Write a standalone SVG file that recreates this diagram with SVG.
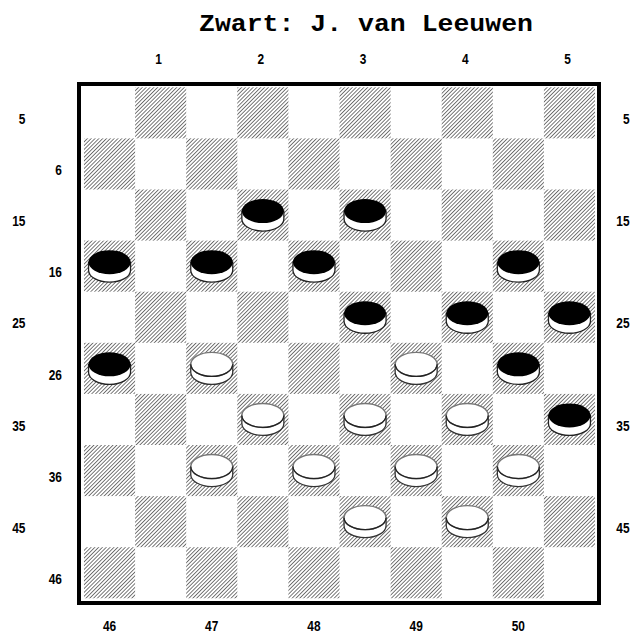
<svg xmlns="http://www.w3.org/2000/svg" xmlns:xlink="http://www.w3.org/1999/xlink" width="630" height="634" viewBox="0 0 630 634">
<style>
.title{font-family:"Liberation Mono","Courier New",monospace;font-weight:bold;font-size:23px;fill:#000}
.lbl{font-family:"Liberation Sans",Arial,sans-serif;font-weight:bold;font-size:14px;fill:#000}
.m{text-anchor:middle}
.e{text-anchor:end}
.d{fill:url(#hatch)}
</style>
<defs>
<pattern id="hatch" patternUnits="userSpaceOnUse" width="2.7" height="10" patternTransform="rotate(45)">
<rect x="0" y="0" width="0.9" height="10" fill="#6a6a6a"/>
</pattern>
<g id="bp">
<path d="M-21,-4 L-21,4 A21,12 0 0 0 21,4 L21,-4 Z" fill="#fff" stroke="#222" stroke-width="1.3"/>
<ellipse cx="0" cy="-4" rx="21" ry="12" fill="#000"/>
</g>
<g id="wp">
<path d="M-21,-4 L-21,4 A21,12 0 0 0 21,4 L21,-4 Z" fill="#fff" stroke="#333" stroke-width="1.3"/>
<ellipse cx="0" cy="-4" rx="21" ry="12" fill="#fff" stroke="#777" stroke-width="1.4"/>
<path d="M-21,-4 A21,12 0 0 0 21,-4" fill="none" stroke="#222" stroke-width="1.3"/>
</g>
</defs>
<rect width="630" height="634" fill="#fff"/>
<text class="title m" x="366" y="31" textLength="334" lengthAdjust="spacingAndGlyphs">Zwart: J. van Leeuwen</text>
<g id="board">
<rect x="79" y="84" width="520" height="519" fill="#fff" stroke="#000" stroke-width="4"/>
<g id="dark-squares">
<rect class="d" x="135.1" y="87.3" width="51.1" height="51.1"/>
<rect class="d" x="237.3" y="87.3" width="51.1" height="51.1"/>
<rect class="d" x="339.5" y="87.3" width="51.1" height="51.1"/>
<rect class="d" x="441.7" y="87.3" width="51.1" height="51.1"/>
<rect class="d" x="543.9" y="87.3" width="51.1" height="51.1"/>
<rect class="d" x="84" y="138.4" width="51.1" height="51.1"/>
<rect class="d" x="186.2" y="138.4" width="51.1" height="51.1"/>
<rect class="d" x="288.4" y="138.4" width="51.1" height="51.1"/>
<rect class="d" x="390.6" y="138.4" width="51.1" height="51.1"/>
<rect class="d" x="492.8" y="138.4" width="51.1" height="51.1"/>
<rect class="d" x="135.1" y="189.5" width="51.1" height="51.1"/>
<rect class="d" x="237.3" y="189.5" width="51.1" height="51.1"/>
<rect class="d" x="339.5" y="189.5" width="51.1" height="51.1"/>
<rect class="d" x="441.7" y="189.5" width="51.1" height="51.1"/>
<rect class="d" x="543.9" y="189.5" width="51.1" height="51.1"/>
<rect class="d" x="84" y="240.6" width="51.1" height="51.1"/>
<rect class="d" x="186.2" y="240.6" width="51.1" height="51.1"/>
<rect class="d" x="288.4" y="240.6" width="51.1" height="51.1"/>
<rect class="d" x="390.6" y="240.6" width="51.1" height="51.1"/>
<rect class="d" x="492.8" y="240.6" width="51.1" height="51.1"/>
<rect class="d" x="135.1" y="291.7" width="51.1" height="51.1"/>
<rect class="d" x="237.3" y="291.7" width="51.1" height="51.1"/>
<rect class="d" x="339.5" y="291.7" width="51.1" height="51.1"/>
<rect class="d" x="441.7" y="291.7" width="51.1" height="51.1"/>
<rect class="d" x="543.9" y="291.7" width="51.1" height="51.1"/>
<rect class="d" x="84" y="342.8" width="51.1" height="51.1"/>
<rect class="d" x="186.2" y="342.8" width="51.1" height="51.1"/>
<rect class="d" x="288.4" y="342.8" width="51.1" height="51.1"/>
<rect class="d" x="390.6" y="342.8" width="51.1" height="51.1"/>
<rect class="d" x="492.8" y="342.8" width="51.1" height="51.1"/>
<rect class="d" x="135.1" y="393.9" width="51.1" height="51.1"/>
<rect class="d" x="237.3" y="393.9" width="51.1" height="51.1"/>
<rect class="d" x="339.5" y="393.9" width="51.1" height="51.1"/>
<rect class="d" x="441.7" y="393.9" width="51.1" height="51.1"/>
<rect class="d" x="543.9" y="393.9" width="51.1" height="51.1"/>
<rect class="d" x="84" y="445" width="51.1" height="51.1"/>
<rect class="d" x="186.2" y="445" width="51.1" height="51.1"/>
<rect class="d" x="288.4" y="445" width="51.1" height="51.1"/>
<rect class="d" x="390.6" y="445" width="51.1" height="51.1"/>
<rect class="d" x="492.8" y="445" width="51.1" height="51.1"/>
<rect class="d" x="135.1" y="496.1" width="51.1" height="51.1"/>
<rect class="d" x="237.3" y="496.1" width="51.1" height="51.1"/>
<rect class="d" x="339.5" y="496.1" width="51.1" height="51.1"/>
<rect class="d" x="441.7" y="496.1" width="51.1" height="51.1"/>
<rect class="d" x="543.9" y="496.1" width="51.1" height="51.1"/>
<rect class="d" x="84" y="547.2" width="51.1" height="51.1"/>
<rect class="d" x="186.2" y="547.2" width="51.1" height="51.1"/>
<rect class="d" x="288.4" y="547.2" width="51.1" height="51.1"/>
<rect class="d" x="390.6" y="547.2" width="51.1" height="51.1"/>
<rect class="d" x="492.8" y="547.2" width="51.1" height="51.1"/>
</g>
</g>
<g id="pieces">
<g id="b12"><use xlink:href="#bp" href="#bp" transform="translate(262.85,215.05)"/></g>
<g id="b13"><use xlink:href="#bp" href="#bp" transform="translate(365.05,215.05)"/></g>
<g id="b16"><use xlink:href="#bp" href="#bp" transform="translate(109.55,266.15)"/></g>
<g id="b17"><use xlink:href="#bp" href="#bp" transform="translate(211.75,266.15)"/></g>
<g id="b18"><use xlink:href="#bp" href="#bp" transform="translate(313.95,266.15)"/></g>
<g id="b20"><use xlink:href="#bp" href="#bp" transform="translate(518.35,266.15)"/></g>
<g id="b23"><use xlink:href="#bp" href="#bp" transform="translate(365.05,317.25)"/></g>
<g id="b24"><use xlink:href="#bp" href="#bp" transform="translate(467.25,317.25)"/></g>
<g id="b25"><use xlink:href="#bp" href="#bp" transform="translate(569.45,317.25)"/></g>
<g id="b26"><use xlink:href="#bp" href="#bp" transform="translate(109.55,368.35)"/></g>
<g id="w27"><use xlink:href="#wp" href="#wp" transform="translate(211.75,368.35)"/></g>
<g id="w29"><use xlink:href="#wp" href="#wp" transform="translate(416.15,368.35)"/></g>
<g id="b30"><use xlink:href="#bp" href="#bp" transform="translate(518.35,368.35)"/></g>
<g id="w32"><use xlink:href="#wp" href="#wp" transform="translate(262.85,419.45)"/></g>
<g id="w33"><use xlink:href="#wp" href="#wp" transform="translate(365.05,419.45)"/></g>
<g id="w34"><use xlink:href="#wp" href="#wp" transform="translate(467.25,419.45)"/></g>
<g id="b35"><use xlink:href="#bp" href="#bp" transform="translate(569.45,419.45)"/></g>
<g id="w37"><use xlink:href="#wp" href="#wp" transform="translate(211.75,470.55)"/></g>
<g id="w38"><use xlink:href="#wp" href="#wp" transform="translate(313.95,470.55)"/></g>
<g id="w39"><use xlink:href="#wp" href="#wp" transform="translate(416.15,470.55)"/></g>
<g id="w40"><use xlink:href="#wp" href="#wp" transform="translate(518.35,470.55)"/></g>
<g id="w43"><use xlink:href="#wp" href="#wp" transform="translate(365.05,521.65)"/></g>
<g id="w44"><use xlink:href="#wp" href="#wp" transform="translate(467.25,521.65)"/></g>
</g>
<g id="labels" transform="scale(0.85,1)">
<text class="lbl m" x="186.6" y="64">1</text>
<text class="lbl m" x="306.8" y="64">2</text>
<text class="lbl m" x="427.1" y="64">3</text>
<text class="lbl m" x="547.4" y="64">4</text>
<text class="lbl m" x="667.6" y="64">5</text>
<text class="lbl e" x="30" y="124.1">5</text>
<text class="lbl e" x="72.9" y="175.2">6</text>
<text class="lbl e" x="30" y="226.3">15</text>
<text class="lbl e" x="72.9" y="277.4">16</text>
<text class="lbl e" x="30" y="328.5">25</text>
<text class="lbl e" x="72.9" y="379.6">26</text>
<text class="lbl e" x="30" y="430.7">35</text>
<text class="lbl e" x="72.9" y="481.8">36</text>
<text class="lbl e" x="30" y="532.9">45</text>
<text class="lbl e" x="72.9" y="584">46</text>
<text class="lbl e" x="740.6" y="124.1">5</text>
<text class="lbl e" x="740.6" y="226.3">15</text>
<text class="lbl e" x="740.6" y="328.5">25</text>
<text class="lbl e" x="740.6" y="430.7">35</text>
<text class="lbl e" x="740.6" y="532.9">45</text>
<text class="lbl m" x="128.9" y="631">46</text>
<text class="lbl m" x="249.1" y="631">47</text>
<text class="lbl m" x="369.4" y="631">48</text>
<text class="lbl m" x="489.6" y="631">49</text>
<text class="lbl m" x="609.8" y="631">50</text>
</g>
</svg>
